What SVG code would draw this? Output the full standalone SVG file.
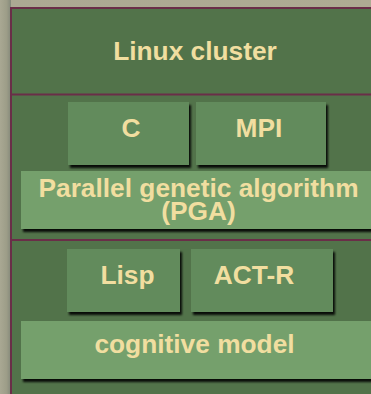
<svg xmlns="http://www.w3.org/2000/svg" width="371" height="394" viewBox="0 0 371 394">
<defs>
<linearGradient id="bg" x1="0" y1="0" x2="1" y2="0">
<stop offset="0" stop-color="#aca893"/>
<stop offset="1" stop-color="#aeab93"/>
</linearGradient>
<linearGradient id="lstrip" x1="0" y1="0" x2="1" y2="0">
<stop offset="0" stop-color="#a9a893"/>
<stop offset="0.6" stop-color="#9d9d88"/>
<stop offset="1" stop-color="#84897a"/>
</linearGradient>
<filter id="sh" x="-10%" y="-10%" width="130%" height="140%">
<feDropShadow dx="2" dy="3" stdDeviation="1.3" flood-color="#000" flood-opacity="0.9"/>
</filter>
<style>
.frame{fill:#52734a;stroke:#6a2e48;stroke-width:2}
.div{stroke:#6a2e48;stroke-width:2;fill:none}
.small{fill:#628b5c;filter:url(#sh)}
.big{fill:#74a06c;filter:url(#sh)}
text{font-family:"Liberation Sans",Arial,sans-serif;font-weight:bold;fill:#f1dea0;text-anchor:middle}
.t{font-size:26.3px}
</style>
</defs>
<rect x="0" y="0" width="371" height="394" fill="url(#bg)"/>
<rect x="0" y="0" width="11" height="394" fill="url(#lstrip)"/>
<g id="linux-cluster">
<rect class="frame" x="11" y="8" width="380" height="395"/>
<text class="t" x="195" y="59.5">Linux cluster</text>
</g>
<g id="connectors">
<line class="div" x1="12" y1="94.5" x2="371" y2="94.5"/>
<line class="div" x1="12" y1="240" x2="371" y2="240"/>
</g>
<g id="c">
<rect class="small" x="68" y="102" width="121" height="63"/>
<text class="t" x="131" y="136.5">C</text>
</g>
<g id="mpi">
<rect class="small" x="196" y="102" width="130" height="63"/>
<text class="t" x="259" y="136.5">MPI</text>
</g>
<g id="pga">
<rect class="big" x="21" y="171" width="360" height="58"/>
<text class="t" x="198.5" y="196.5">Parallel genetic algorithm</text>
<text class="t" x="198.5" y="220">(PGA)</text>
</g>
<g id="lisp">
<rect class="small" x="67" y="249" width="113" height="63"/>
<text class="t" x="127.5" y="284">Lisp</text>
</g>
<g id="act-r">
<rect class="small" x="191" y="249" width="142" height="63"/>
<text class="t" x="254" y="284">ACT-R</text>
</g>
<g id="cognitive-model">
<rect class="big" x="21" y="321" width="360" height="58"/>
<text class="t" x="194.5" y="353">cognitive model</text>
</g>
</svg>
